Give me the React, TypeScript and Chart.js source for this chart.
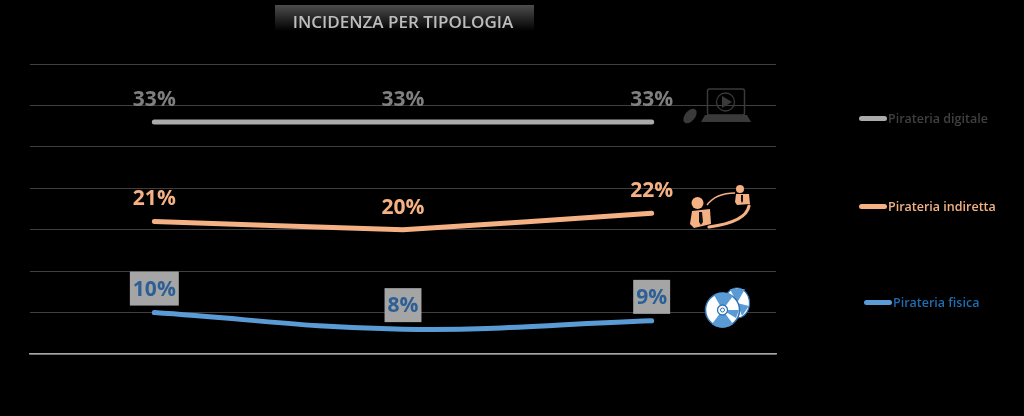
import React, { useEffect, useRef } from "react";
import { Chart, registerables } from "chart.js";

Chart.register(...registerables);

const categories = ["2010", "2011", "2012"];
const digitale = [33, 33, 33];
const indiretta = [21, 20, 22];
const fisica = [10, 8, 9];
const seriesNames = ["Pirateria digitale", "Pirateria indiretta", "Pirateria fisica"];
const lineColors = ["#ababab", "#f4b183", "#5b9bd5"];
const labelColors = ["#7f7f7f", "#f4b183", "#2c5f96"];
const legendTextColors = ["#404040", "#f4b183", "#1f6db3"];
const chartTitle = "INCIDENZA PER TIPOLOGIA";
const FONT = '"Open Sans", sans-serif';

const titleBackdrop = {
  id: "titleBackdrop",
  beforeDraw(chart: any) {
    const { ctx } = chart;
    const g = ctx.createLinearGradient(0, 5, 0, 31);
    g.addColorStop(0, "#4d4d4d");
    g.addColorStop(1, "#000000");
    ctx.save();
    ctx.fillStyle = g;
    ctx.fillRect(275, 5, 259, 26);
    ctx.restore();
  },
};

const dataLabels = {
  id: "dataLabels",
  afterDatasetsDraw(chart: any) {
    const { ctx } = chart;
    ctx.save();
    ctx.font = `700 21px ${FONT}`;
    ctx.textAlign = "center";
    ctx.textBaseline = "middle";
    chart.data.datasets.forEach((ds: any, i: number) => {
      const meta = chart.getDatasetMeta(i);
      meta.data.forEach((pt: any, j: number) => {
        const text = `${ds.data[j]}%`;
        const cy = pt.y - 23;
        if (i === 2) {
          const w = ctx.measureText(text).width + 6;
          ctx.fillStyle = "#a5a5a5";
          ctx.fillRect(pt.x - w / 2, pt.y - 41, w, 34);
        }
        ctx.fillStyle = labelColors[i];
        ctx.fillText(text, pt.x, i === 2 ? cy : cy + 1);
      });
    });
    ctx.restore();
  },
};

function LaptopIcon() {
  const c = "#3a3a3a";
  return (
    <g>
      <rect x="707.5" y="89" width="37" height="26" rx="2" fill="none" stroke={c} strokeWidth="1.5" />
      <circle cx="725.5" cy="102" r="9" fill="none" stroke={c} strokeWidth="1.3" />
      <path d="M722 96 L732 102 L722 108 Z" fill={c} />
      <path d="M705 115 H747 L751 122 H701 Z" fill={c} />
      <ellipse cx="690" cy="116" rx="5" ry="8.5" transform="rotate(40 690 116)" fill={c} />
    </g>
  );
}

function PeopleIcon() {
  const c = "#f4b183";
  return (
    <g>
      <circle cx="697.5" cy="203" r="6" fill={c} />
      <path d="M692 211 L710 209 L711 224 L694 228 L690 224 Z" fill={c} />
      <path d="M699 212 L702 212 L703 222 L701 225 L699 222 Z" fill="#111" />
      <circle cx="740" cy="189" r="4" fill={c} />
      <path d="M736 194 L749 194 L750 204 L737 205 L735 202 Z" fill={c} />
      <path d="M741 195 L743 195 L743 201 L742 203 L741 201 Z" fill="#111" />
      <path d="M707 205 Q716 193 735 193" fill="none" stroke={c} strokeWidth="1.3" />
      <path d="M749 206 Q746 222 709 227" fill="none" stroke={c} strokeWidth="3.2" strokeLinecap="round" />
    </g>
  );
}

function DiscIcon() {
  const b = "#2f75b5";
  const w = "#ffffff";
  return (
    <g>
      <ellipse cx="737" cy="303" rx="12.5" ry="15" fill={w} stroke={b} strokeWidth="1.2" />
      <path d="M737 303 L730 289 L745 289 Z" fill="#5b9bd5" />
      <path d="M737 303 L749 306 L742 316 Z" fill="#5b9bd5" />
      <circle cx="722.5" cy="310" r="17" fill={w} stroke={b} strokeWidth="1.5" />
      <path d="M722.5 310 L714 295 A17 17 0 0 1 733 296 Z" fill="#5b9bd5" />
      <path d="M722.5 310 L712 324 A17 17 0 0 0 733 324 Z" fill="#5b9bd5" />
      <path d="M722.5 310 L739 310 L736 318 Z" fill="#5b9bd5" />
      <circle cx="722.5" cy="310" r="5" fill={w} stroke={b} strokeWidth="1.3" />
      <circle cx="722.5" cy="310" r="2" fill="none" stroke={b} strokeWidth="1" />
    </g>
  );
}

const legendRows = [
  { lineX: 859, y: 118.5 },
  { lineX: 859, y: 206.5 },
  { lineX: 864, y: 302.5 },
];

export default function App() {
  const ref = useRef<HTMLCanvasElement | null>(null);

  useEffect(() => {
    document.body.style.margin = "0";
    document.body.style.background = "#000";
    const make = (data: number[], i: number, tension: number) => ({
      label: seriesNames[i],
      data,
      borderColor: lineColors[i],
      backgroundColor: lineColors[i],
      borderWidth: 5,
      borderCapStyle: "round" as const,
      pointRadius: 0,
      tension,
      fill: false,
    });
    const chart = new Chart(ref.current as HTMLCanvasElement, {
      type: "line",
      data: {
        labels: categories,
        datasets: [make(digitale, 0, 0), make(indiretta, 1, 0.05), make(fisica, 2, 0.4)],
      },
      plugins: [titleBackdrop, dataLabels],
      options: {
        animation: false,
        responsive: false,
        layout: { padding: { left: 30, right: 248, top: 0, bottom: 62 } },
        plugins: {
          legend: { display: false },
          tooltip: { enabled: false },
          title: {
            display: true,
            text: chartTitle,
            color: "#bdbdbd",
            font: { family: FONT, size: 17, weight: 600, lineHeight: 1.2 },
            padding: { top: 13, bottom: 30.6 },
          },
        },
        scales: {
          x: {
            offset: true,
            grid: { display: false, drawTicks: false, tickLength: 0 },
            border: { display: true, color: "#a6a6a6", width: 1.5 },
            ticks: { display: false },
          },
          y: {
            min: 5,
            max: 40,
            grid: { color: "#3f3f3f", lineWidth: 1, drawTicks: false, tickLength: 0 },
            border: { display: false },
            ticks: { display: false, stepSize: 5 },
          },
        },
      },
    });
    return () => chart.destroy();
  }, []);

  return (
    <div style={{ position: "relative", width: 1024, height: 416, background: "#000", overflow: "hidden" }}>
      <canvas ref={ref} width={1024} height={416} style={{ position: "absolute", left: 0, top: 0 }} />
      <svg width={1024} height={416} style={{ position: "absolute", left: 0, top: 0 }}>
        <LaptopIcon />
        <PeopleIcon />
        <DiscIcon />
      </svg>
      {seriesNames.map((name, i) => (
        <div
          key={name}
          style={{
            position: "absolute",
            left: legendRows[i].lineX,
            top: legendRows[i].y - 10,
            height: 20,
            display: "flex",
            alignItems: "center",
            whiteSpace: "nowrap",
          }}
        >
          <span style={{ width: 28, height: 5, borderRadius: 3, background: lineColors[i], marginRight: 1 }} />
          <span style={{ font: `600 12.5px ${FONT}`, color: legendTextColors[i] }}>{name}</span>
        </div>
      ))}
    </div>
  );
}
